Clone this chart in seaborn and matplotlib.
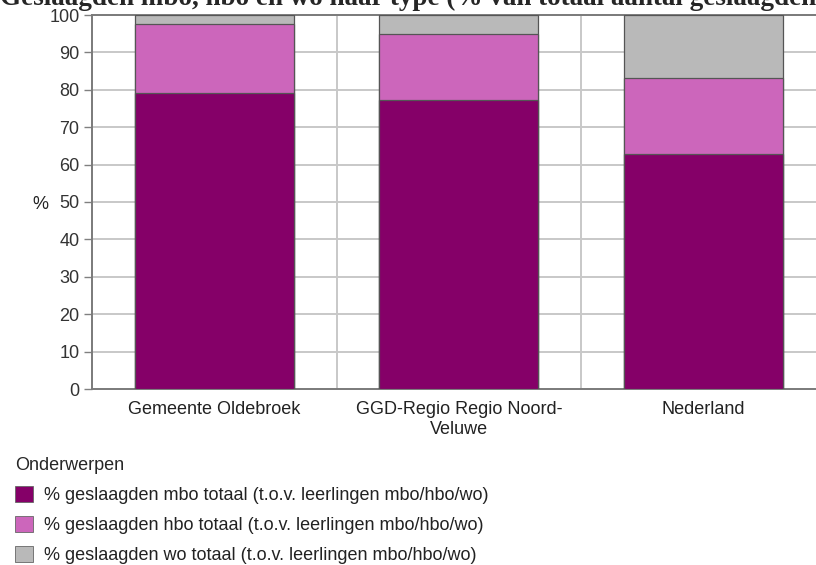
import matplotlib
matplotlib.use("Agg")
import matplotlib.pyplot as plt
import seaborn as sns
import pandas as pd
import numpy as np

categories = ["Gemeente Oldebroek", "GGD-Regio Regio Noord-\nVeluwe", "Nederland"]
mbo = [79.2, 77.3, 62.9]
hbo = [18.3, 17.6, 20.3]
wo = [2.5, 5.1, 16.8]
series_labels = [
    "% geslaagden mbo totaal (t.o.v. leerlingen mbo/hbo/wo)",
    "% geslaagden hbo totaal (t.o.v. leerlingen mbo/hbo/wo)",
    "% geslaagden wo totaal (t.o.v. leerlingen mbo/hbo/wo)",
]
colors = ["#850068", "#cc66bb", "#b9b9b9"]
title = "Geslaagden mbo, hbo en wo naar type (% van totaal aantal geslaagden)"

sns.set_theme(style="white")
plt.rcParams["font.family"] = ["Liberation Sans", "DejaVu Sans"]

FS = 13
W, H = 816, 565
fig = plt.figure(figsize=(W / 100, H / 100), dpi=100)
ax = fig.add_axes([92 / W, 1 - 389 / H, (825.5 - 92) / W, (389 - 15) / H])

df = pd.DataFrame({"cat": categories, "mbo": mbo, "hbo": hbo, "wo": wo})
df["c2"] = df["mbo"] + df["hbo"]
df["c3"] = df["c2"] + df["wo"]

for col, color in zip(["c3", "c2", "mbo"], colors[::-1]):
    sns.barplot(data=df, x="cat", y=col, color=color, width=0.65, ax=ax,
                edgecolor="#555555", linewidth=0.9, saturation=1, zorder=3)

ax.set_ylim(0, 100)
ax.set_xlim(-0.5, 2.5)
ax.set_yticks(np.arange(0, 101, 10))
for y in range(10, 101, 10):
    ax.axhline(y, color="#c8c8c8", lw=1.4, zorder=1)
for x in [0.5, 1.5]:
    ax.axvline(x, color="#c8c8c8", lw=1.4, zorder=1)

ax.set_xlabel("")
ax.set_ylabel("%", rotation=0, fontsize=FS, color="#222222")
ax.yaxis.set_label_coords(-52 / (825.5 - 92), 0.47)
ax.tick_params(axis="y", left=True, length=6, width=1, color="#808080",
               labelsize=FS, labelcolor="#333333", pad=3)
ax.tick_params(axis="x", bottom=False, labelsize=FS, labelcolor="#222222", pad=3)
for s in ["left", "bottom", "top"]:
    ax.spines[s].set_color("#7a7a7a")
    ax.spines[s].set_linewidth(1.4)
ax.spines["right"].set_visible(False)

fig.text(0.0, 1 - 5 / H, title, fontsize=19.5, fontweight="bold",
         family=["Liberation Serif", "DejaVu Serif"], va="baseline", ha="left")

from matplotlib.patches import Patch
handles = [Patch(facecolor=c, edgecolor="#666666", linewidth=0.6) for c in colors]
leg = fig.legend(handles, series_labels, title="Onderwerpen", loc="upper left",
                 bbox_to_anchor=(10 / W, 1 - 452 / H), frameon=False, fontsize=FS,
                 title_fontsize=FS, handlelength=1.0, handleheight=1.0,
                 handletextpad=0.6, labelspacing=0.64, alignment="left",
                 borderaxespad=0, borderpad=0.3)
for t in leg.get_texts():
    t.set_color("#222222")

fig.savefig("out.png", dpi=100)
